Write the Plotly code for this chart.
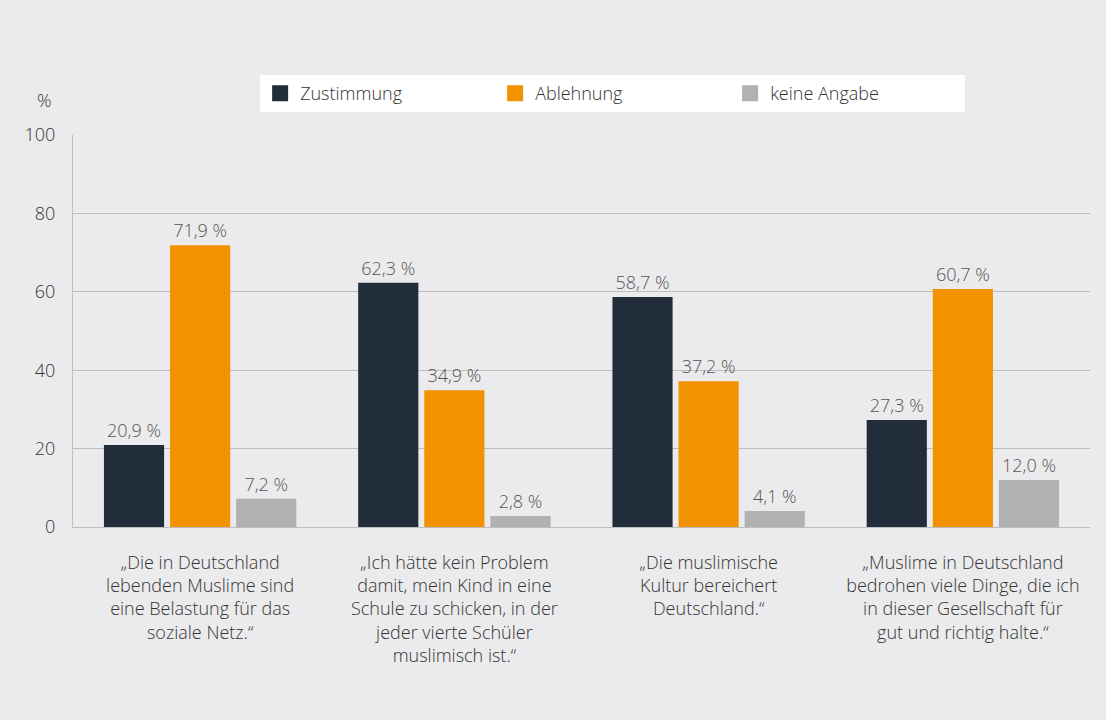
import plotly.graph_objects as go

categories = [
    "„Die in Deutschland<br>lebenden Muslime sind<br>eine Belastung für das<br>soziale Netz.“",
    "„Ich hätte kein Problem<br>damit, mein Kind in eine<br>Schule zu schicken, in der<br>jeder vierte Schüler<br>muslimisch ist.“",
    "„Die muslimische<br>Kultur bereichert<br>Deutschland.“",
    "„Muslime in Deutschland<br>bedrohen viele Dinge, die ich<br>in dieser Gesellschaft für<br>gut und richtig halte.“",
]
series_names = ["Zustimmung", "Ablehnung", "keine Angabe"]
zustimmung = [20.9, 62.3, 58.7, 27.3]
ablehnung = [71.9, 34.9, 37.2, 60.7]
keine_angabe = [7.2, 2.8, 4.1, 12.0]
y_ticks = [0, 20, 40, 60, 80, 100]

colors = ["#222D3B", "#F39200", "#B1B1B3"]
BG = "#EBEBED"
FONT = "Open Sans"
TXT = "#333333"
W = 300

def fmt(v):
    return f"{v:.1f}".replace(".", ",") + " %"

x_idx = list(range(len(categories)))
fig = go.Figure()
for name, vals, col in zip(series_names, [zustimmung, ablehnung, keine_angabe], colors):
    fig.add_trace(go.Bar(
        x=x_idx, y=vals, name=name, marker=dict(color=col, line=dict(width=0)),
        text=[fmt(v) for v in vals], textposition="outside",
        textfont=dict(family=FONT, size=18, color="#555555", weight=W),
        cliponaxis=False, showlegend=False, hoverinfo="skip",
    ))
# legend entries with larger square swatches
for name, col in zip(series_names, colors):
    fig.add_trace(go.Scatter(
        x=[None], y=[None], mode="markers", name=name,
        marker=dict(symbol="square", size=21, color=col),
    ))

fig.update_layout(
    width=1106, height=720,
    margin=dict(l=65, r=24, t=127, b=201),
    paper_bgcolor=BG, plot_bgcolor=BG,
    font=dict(family=FONT, size=18, color=TXT, weight=W),
    barmode="group", bargap=0.22, bargroupgap=0.09,
    legend=dict(
        orientation="h", x=0.184, y=1.153, xanchor="left", yanchor="top",
        bgcolor="#FFFFFF", font=dict(family=FONT, size=18, color=TXT, weight=W),
        entrywidth=190, entrywidthmode="pixels", itemsizing="trace",
    ),
    xaxis=dict(
        tickmode="array", tickvals=x_idx, ticktext=categories,
        range=[-0.5, 3.5], showgrid=False, showline=True, linecolor="#BDBDBD",
        linewidth=1, ticks="", ticklabelstandoff=19,
        tickfont=dict(family=FONT, size=18, color=TXT, weight=W), fixedrange=True,
    ),
    yaxis=dict(
        range=[0, 100], tickvals=y_ticks, showgrid=True, gridcolor="#BDBDBD",
        gridwidth=1, showline=True, linecolor="#BDBDBD", linewidth=1,
        zeroline=False, ticks="", ticklabelstandoff=13,
        tickfont=dict(family=FONT, size=18, color=TXT, weight=W), fixedrange=True,
    ),
    annotations=[dict(
        text="%", x=-0.0285, y=1.089, xref="paper", yref="paper",
        xanchor="center", yanchor="middle", showarrow=False,
        font=dict(family=FONT, size=18, color=TXT, weight=W),
    )],
)

fig.write_html("out.html", post_script="document.body.style.background='#EBEBED';")
